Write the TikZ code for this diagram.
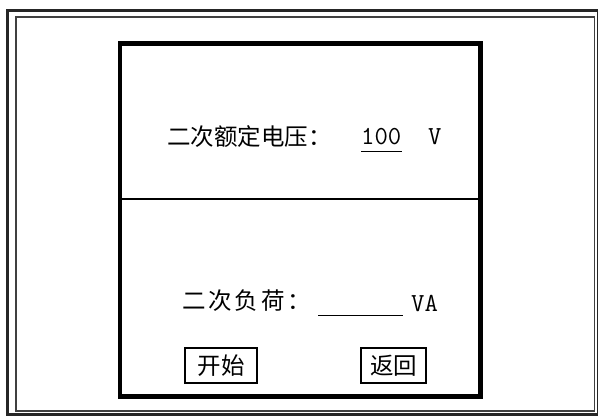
\documentclass[tikz,border=0pt]{standalone}
\usepackage{fontspec}
\newfontfamily\cjk{Noto Sans CJK SC}
\usetikzlibrary{positioning}

\begin{document}
\begin{tikzpicture}[x=1pt, y=-1pt,
            label/.style={inner sep=0pt, anchor=west, font=\cjk\fontsize{23.5}{26}\selectfont},
            unit/.style={inner sep=0pt, anchor=base west, font=\ttfamily\fontsize{26}{28}\selectfont},
            field/.style={inner sep=0pt, anchor=west, minimum width=85pt, minimum height=28pt},
            button/.style={rectangle, draw, line width=1.3pt, minimum height=35pt, inner sep=2pt, font=\cjk\fontsize{23.5}{26}\selectfont}
        ]
            \useasboundingbox (0,0) rectangle (598,417);
            % screen frame
            \draw[line width=3pt, black!85] (7.5,10.5) rectangle (598.5,414.5);
            \draw[line width=1.5pt, black!75] (16,17) rectangle (594.5,411);
            % dialog
            \draw[line width=4.5pt] (120,43.5) rectangle (480.5,396.5);
            \draw[line width=1.3pt] (120,199) -- (480.5,199);
            
            \node[label] (volt) at (167,137) {二次额定电压：};
            \node[unit] (val) at (361,145) {100};
            \node[unit] (vunit) at (428,145) {V};
            \draw[line width=1.3pt] ([yshift=-6.5pt]val.base west) -- ([yshift=-6.5pt]val.base east);
            
            \node[label, font=\cjk\fontsize{23.5}{26}\selectfont\addfontfeature{LetterSpace=12}] (load) at (182,301) {二次负荷：};
            \node[field] (fld) at (318,301) {};
            \draw[line width=1.3pt] (fld.south west) -- (fld.south east);
            \node[unit] (vaunit) at (411,312) {VA};
            
            \node[button, minimum width=72pt] (start) at (221,365.5) {开始};
            \node[button, minimum width=65pt] (back) at (393.5,365.5) {返回};
        \end{tikzpicture}
\end{document}
